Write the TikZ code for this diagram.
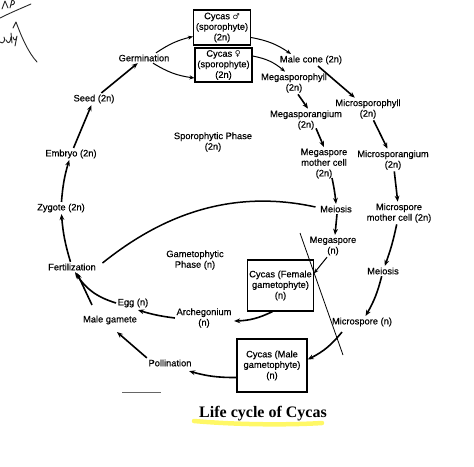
\documentclass[tikz,border=0pt]{standalone}
\usepackage{fontspec}
\setmainfont{Liberation Sans}
\newfontfamily\lblf[FakeBold=0.35]{Liberation Sans}
\newfontfamily\symf{DejaVu Sans}
\newfontfamily\titlef{Liberation Serif}
\usetikzlibrary{arrows.meta,calc}
\begin{document}
\begin{tikzpicture}[x=1pt,y=-1pt,
 lbl/.style={font=\lblf\fontsize{9.3}{10.6}\selectfont, align=center, inner sep=1.5pt},
 boxn/.style={lbl, draw, line width=1.1pt},
 arr/.style={line width=1.6pt, -{Stealth[length=6pt,width=4.8pt]}},
 tarr/.style={line width=1pt, -{Stealth[length=5pt,width=4pt]}},
 scrib/.style={line width=0.9pt, line cap=round, line join=round, black!85}
]
\useasboundingbox (0,0) rectangle (474,466);

% highlighter under title
\draw[yellow!80!white, line width=4.5pt, opacity=0.75, line cap=round] (194,421) .. controls (240,425) and (290,425) .. (322,423);

% handwriting scribbles (top left)
\draw[scrib] (0,18) .. controls (12,12) and (22,8) .. (31,4);
\draw[scrib] (2,9) -- (5,1) -- (8,8) (10,8) -- (12,0) .. controls (16,1) and (15,5) .. (11,5);
\draw[scrib] (0,42) .. controls (3,45) and (6,40) .. (4,37) (6,40) .. controls (8,44) and (10,44) .. (11,37) (11,33) -- (12,43) (13,37) .. controls (14,41) and (16,41) .. (17,36) -- (15,46);
\draw[scrib] (13,28) -- (16,22) .. controls (22,38) and (28,52) .. (37,62);

% nodes
\node[boxn, minimum width=57pt, minimum height=35pt] (cm) at (222,27.5) {Cycas {\symf\fontsize{8}{8}\selectfont ♂}\\(sporophyte)\\(2n)};
\node[boxn, minimum width=57pt, minimum height=34pt] (cf) at (223.5,65) {Cycas {\symf\fontsize{8}{8}\selectfont ♀}\\(sporophyte)\\(2n)};
\node[lbl] (germ) at (144,58) {Germination};
\node[lbl] (seed) at (94,99) {Seed (2n)};
\node[lbl] (embryo) at (71,154) {Embryo (2n)};
\node[lbl] (zygote) at (61,208) {Zygote (2n)};
\node[lbl] (fert) at (72,267) {Fertilization};
\node[lbl] (egg) at (133,303) {Egg (n)};
\node[lbl] (mg) at (110,320) {Male gamete};
\node[lbl] (arch) at (204,318) {Archegonium\\(n)};
\node[lbl] (poll) at (170,363) {Pollination};
\node[lbl] (gp) at (195,260) {Gametophytic\\Phase (n)};
\node[boxn, minimum width=65pt, minimum height=51pt] (fgb) at (280.5,285.5) {Cycas (Female\\gametophyte)\\(n)};
\node[boxn, line width=1.4pt, minimum width=70pt, minimum height=53pt] (mgb) at (272,365.5) {Cycas (Male\\gametophyte)\\(n)};
\node[lbl] (ms) at (362,322) {Microspore (n)};
\node[lbl] (mr) at (383,271) {Meiosis};
\node[lbl] (mmc2) at (399,213) {Microspore\\mother cell (2n)};
\node[lbl] (ml) at (336,209) {Meiosis};
\node[lbl] (mega) at (333,246) {Megaspore\\(n)};
\node[lbl] (mmc) at (324,163.5) {Megaspore\\mother cell\\(2n)};
\node[lbl] (msg) at (393,160) {Microsporangium\\(2n)};
\node[lbl] (mcone) at (311,60) {Male cone (2n)};
\node[lbl] (mgph) at (294,83) {Megasporophyll\\(2n)};
\node[lbl] (msph) at (368,109) {Microsporophyll\\(2n)};
\node[lbl] (mgsg) at (306,120) {Megasporangium\\(2n)};
\node[lbl] (sp) at (213,142) {Sporophytic Phase\\(2n)};
\node[font=\titlef\bfseries\fontsize{16}{18}\selectfont, inner sep=0pt] (title) at (263,414) {Life cycle of Cycas};

% connectors
\draw[arr] (seed) -- (germ);
\draw[arr] (embryo) -- (seed);
\draw[arr] (zygote) to[bend left=6] (embryo);
\draw[arr] (fert) to[bend left=6] (zygote);
\draw[arr] (egg.west) to[bend left=20] ($(fert.south)+(3,0)$);
\draw[arr] ($(mg.north)+(-18,-9)$) -- ($(fert.south)+(5,1)$);
\draw[arr] (arch.west) to[bend left=5] ($(egg.south)+(5,1)$);
\draw[arr] (poll.north west) -- ($(mg.south)+(7,6)$);
\draw[arr] ($(mgb.west)+(0,12)$) to[bend left=8] ($(poll.south east)+(-4,3)$);
\draw[arr] ($(fgb.south)+(-8,0)$) to[bend left=12] ($(arch.east)+(1,3)$);
\draw[tarr] ($(mega.south)+(-6,0)$) -- ($(fgb.east)+(0,-12)$);
\draw[arr] ($(ms.south)+(-20,4)$) to[bend left=12] ($(mgb.east)+(0,-6)$);
\draw[arr] (mr) to[bend left=8] (ms);
\draw[arr] (mmc2) to[bend left=4] (mr);
\draw[arr] (msg) -- (mmc2);
\draw[arr] (msph) -- (msg);
\draw[arr] (mcone) -- (msph);
\draw[tarr] ($(cm.east)+(0,10)$) to[bend left=12] ($(mcone.north)+(-20,0)$);
\draw[tarr] ($(cf.east)+(0,-9)$) to[bend left=15] ($(mgph.north)+(-9,0)$);
\draw[tarr] ($(germ.north)+(12,0)$) to[bend left=10] ($(cm.west)+(0,9)$);
\draw[tarr] ($(germ.south)+(9,0)$) to[bend right=12] ($(cf.west)+(0,13)$);
\draw[arr] ($(mgph.south)+(4,0)$) -- ($(mgsg.north)+(2,0)$);
\draw[arr] ($(mgsg.south)+(10,-3)$) -- (mmc.north);
\draw[arr] ($(mmc.south)+(8,-2)$) to[bend left=3] (ml.north);
\draw[arr] ($(ml.south)+(1,0)$) -- ($(mega.north)+(2,0)$);

% big arc separating the phases
\draw[line width=1.5pt] ($(fert.east)+(5,-4)$) .. controls (150,225) and (220,186) .. ($(ml.west)+(-3,-2)$);

% separator line
\coordinate (s1) at (300,233);
\coordinate (s2) at (343,355);
\draw[line width=0.8pt] (s1) -- (s2);

% faint dash
\coordinate (d1) at (122,392);
\coordinate (d2) at (161,392);
\draw[black!60, line width=0.7pt] (d1) -- (d2);
\end{tikzpicture}
\end{document}
